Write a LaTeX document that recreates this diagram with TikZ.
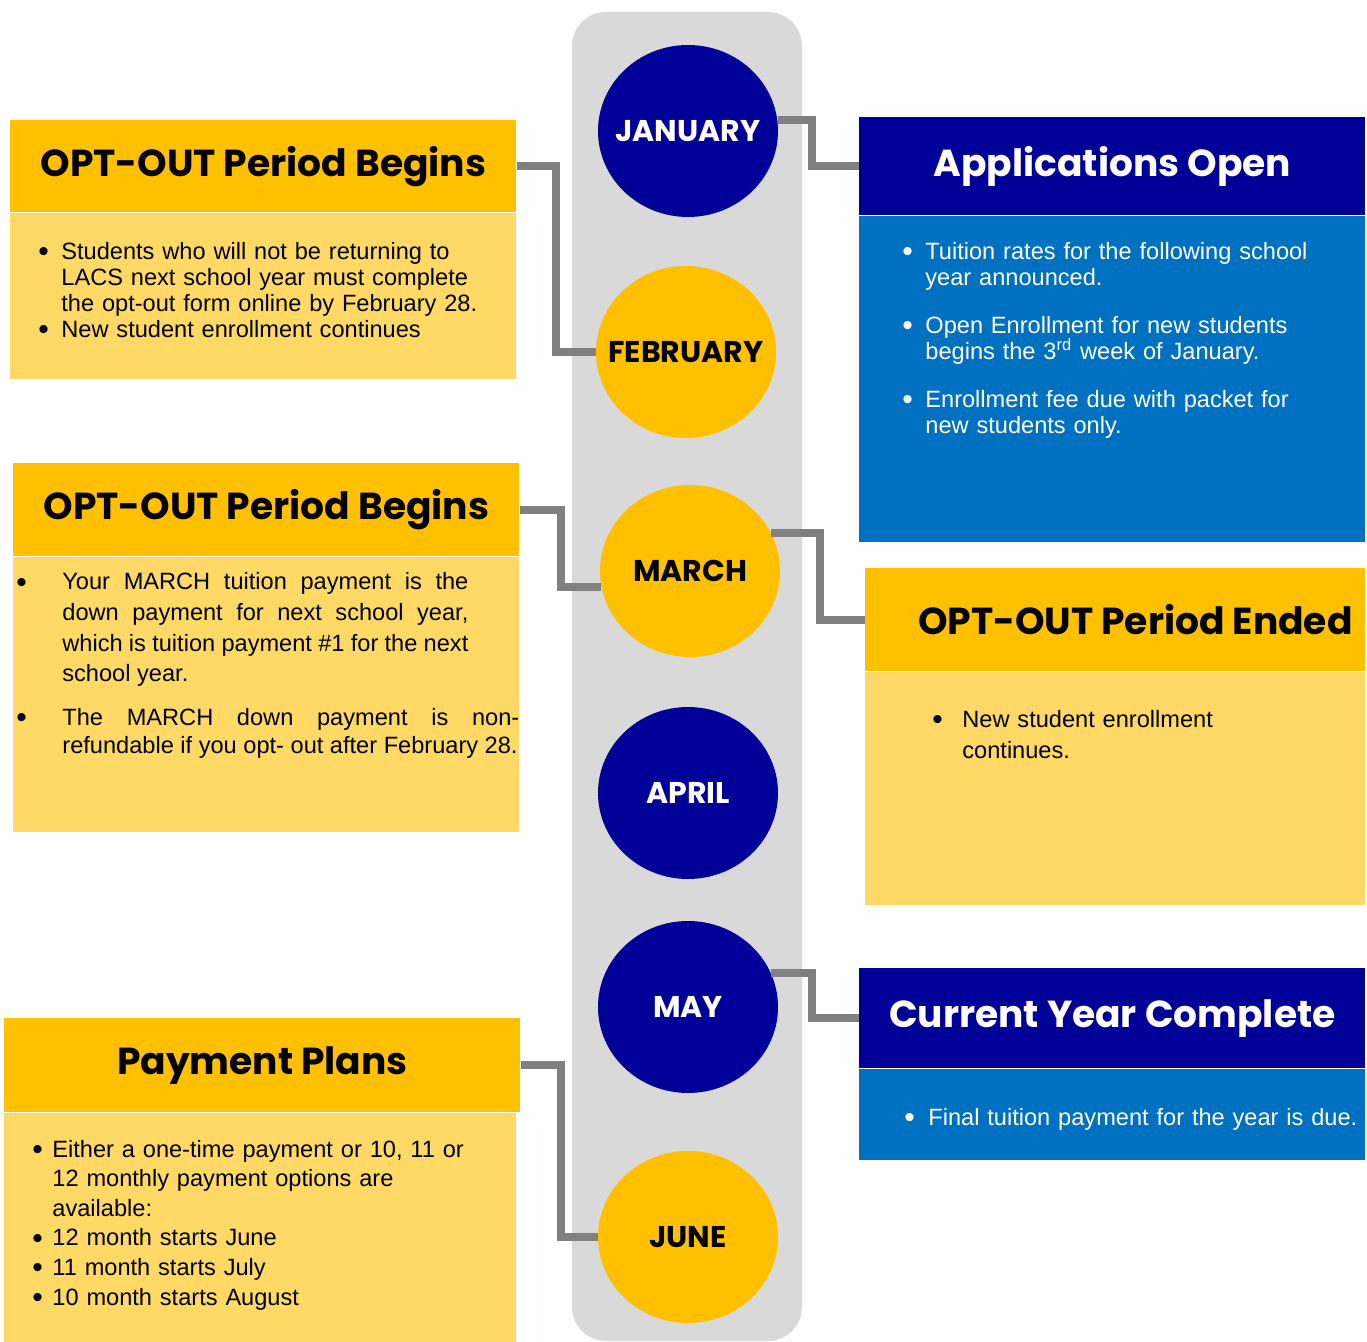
\documentclass[tikz,border=0pt]{standalone}
\usepackage{fontspec}
\setmainfont{Liberation Sans}
\newfontfamily\headfont{Poppins}
\usetikzlibrary{positioning,shapes.geometric}
\definecolor{navy}{RGB}{0,0,153}
\definecolor{gold}{RGB}{255,192,0}
\definecolor{pale}{RGB}{255,217,102}
\definecolor{midblue}{RGB}{0,112,192}
\definecolor{colbg}{RGB}{217,217,217}
\definecolor{linkgray}{RGB}{128,128,128}
\newlength\bind
\newcommand\bul[1]{\par\noindent\hangindent=\bind\hangafter=1%
  \makebox[\bind][l]{\raisebox{-1.2pt}{\fontsize{15}{15}\selectfont\textbullet}}#1\par}
\tikzset{month/.style={ellipse,minimum width=90pt,minimum height=86pt,inner ysep=0pt,inner xsep=-8pt,
    font=\headfont\bfseries\fontsize{15}{15}\selectfont},
  navy month/.style={month,fill=navy,text=white},
  gold month/.style={month,fill=gold,text=black},
  head box/.style={anchor=north west,inner sep=0pt,font=\headfont\bfseries\fontsize{18.8}{20}\selectfont},
  body box/.style={inner sep=0pt},
  body text/.style={anchor=north west,inner sep=0pt,align=left,font=\fontsize{11.8}{13}\selectfont},
  link/.style={draw=linkgray,line width=4pt},
}

\begin{document}
\begin{tikzpicture}[x=0.5pt,y=-0.5pt]
\useasboundingbox (0,0) rectangle (1367,1342);
% timeline column
\fill[colbg,rounded corners=17pt] (572,12) rectangle (802,1341);

% months
\node[navy month] (jan) at (688,131) {JANUARY};
\node[gold month] (feb) at (686,352) {FEBRUARY};
\node[gold month] (mar) at (690,571) {MARCH};
\node[navy month] (apr) at (688,793) {APRIL};
\node[navy month] (may) at (688,1007) {MAY};
\node[gold month] (jun) at (688,1237) {JUNE};

% left boxes
\node[head box,fill=gold,minimum width=253pt,minimum height=46pt] (hdA) at (10,120) {OPT-OUT Period Begins};
\node[body box,fill=pale,minimum width=253pt,minimum height=83pt,below=0pt of hdA] (bdA) {};
\node[head box,fill=gold,minimum width=253pt,minimum height=46.5pt] (hdB) at (13,463) {OPT-OUT Period Begins};
\node[body box,fill=pale,minimum width=253pt,minimum height=137.5pt,below=0pt of hdB] (bdB) {};
\node[head box,fill=gold,minimum width=258pt,minimum height=47pt] (hdPay) at (4,1018) {Payment Plans};
\node[body box,fill=pale,minimum width=256pt,minimum height=115pt,below right=0pt and 0pt of hdPay.south west,anchor=north west] (bdPay) {};

% right boxes
\node[head box,fill=navy,text=white,minimum width=253pt,minimum height=49pt] (hdApp) at (859,117) {Applications Open};
\node[body box,fill=midblue,minimum width=253pt,minimum height=163pt,below=0pt of hdApp] (bdApp) {};
\node[head box,fill=gold,minimum width=250pt,minimum height=51.5pt] (hdEnd) at (865,568) {\hspace{20pt}OPT-OUT Period Ended};
\node[body box,fill=pale,minimum width=250pt,minimum height=116.5pt,below=0pt of hdEnd] (bdEnd) {};
\node[head box,fill=navy,text=white,minimum width=253pt,minimum height=50pt] (hdCur) at (859,968) {Current Year Complete};
\node[body box,fill=midblue,minimum width=253pt,minimum height=45.5pt,below=0pt of hdCur] (bdCur) {};

% texts
\node[body text,text width=250pt] (txA) at (38,233) {\setlength\bind{11.5pt}%
  \bul{Students who will not be returning to\newline LACS next school year must complete\newline the opt-out form online by February 28.}%
  \bul{New student enrollment continues}};
\node[body text,text width=226pt,align=justify,font=\fontsize{11.8}{15.3}\selectfont] (txB1) at (16,559) {\setlength\bind{23pt}\tolerance=10000
  \bul{Your MARCH tuition payment is the\linebreak down payment for next school year,\linebreak which is tuition payment \#1 for the next\linebreak school year.}};
\node[body text,text width=251.5pt,align=justify,font=\fontsize{11.8}{14}\selectfont] (txB2) at (16,697) {\setlength\bind{23pt}\tolerance=10000
  \bul{The MARCH down payment is non-\linebreak refundable if you opt- out after February 28.}};
\node[body text,text width=240pt,font=\fontsize{11.8}{14.8}\selectfont] (txPay) at (32,1127) {\setlength\bind{10pt}%
  \bul{Either a one-time payment or 10, 11 or\newline 12 monthly payment options are\newline available:}%
  \bul{12 month starts June}\bul{11 month starts July}\bul{10 month starts August}};
\node[body text,text=white,text width=235pt] (txApp) at (902,233) {\setlength\bind{11.5pt}%
  \bul{Tuition rates for the following school\newline year announced.}\vspace{11pt}%
  \bul{Open Enrollment for new students\newline begins the 3\textsuperscript{rd} week of January.}\vspace{11pt}%
  \bul{Enrollment fee due with packet for\newline new students only.}};
\node[body text,text width=200pt,font=\fontsize{11.8}{15.5}\selectfont] (txEnd) at (932,696) {\setlength\bind{15pt}%
  \bul{New student enrollment\newline continues.}};
\node[body text,text=white,text width=230pt] (txCur) at (904,1099) {\setlength\bind{12pt}%
  \bul{Final tuition payment for the year is due.}};

% connectors
\draw[link] (hdA.east) -- ++(39,0) |- (feb.west);
\draw[link] (jan.7) -- ++(34,0) |- (hdApp.west);
\draw[link] (hdB.east) -- ++(41,0) |- (mar.190);
\draw[link] (mar.25) -- ++(49,0) |- (hdEnd.west);
\draw[link] (may.22) -- ++(41,0) |- (hdCur.west);
\draw[link] (hdPay.east) -- ++(40,0) |- (jun.west);
\end{tikzpicture}
\end{document}
